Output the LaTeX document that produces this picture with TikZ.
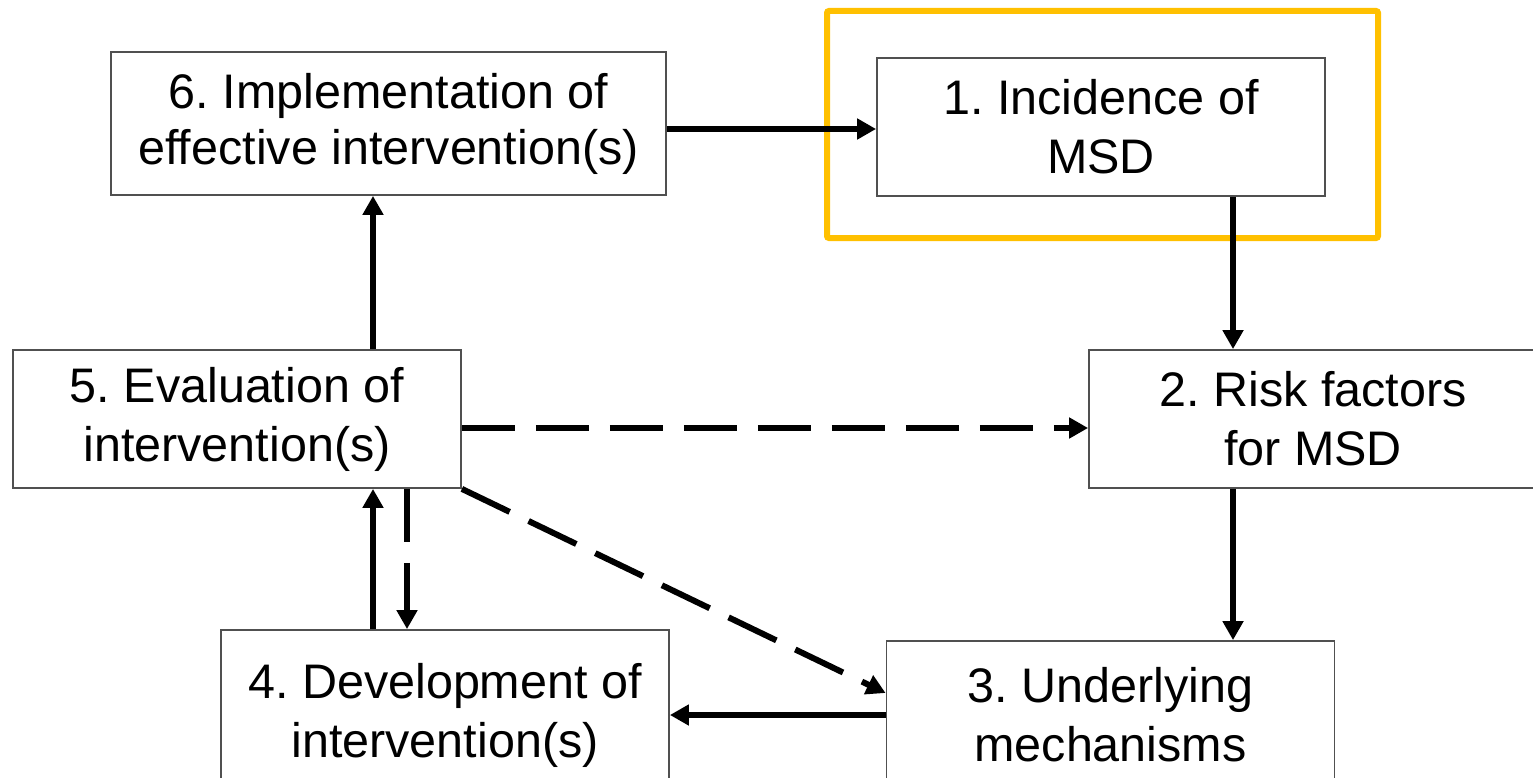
\documentclass[tikz,border=0pt]{standalone}
\usepackage{fontspec}
\setmainfont{Liberation Sans}
\usetikzlibrary{arrows.meta}
\definecolor{gold}{HTML}{FFC000}
\definecolor{bordergray}{HTML}{505050}
\tikzset{
 box/.style={draw=bordergray, line width=1.8pt, fill=white, align=center,
   font=\fontsize{48.5}{59}\selectfont\frenchspacing, inner sep=0pt,
   minimum width=448pt, minimum height=138pt},
 arr/.style={line width=6pt, -{Triangle[length=19pt,width=20pt]}},
 darr/.style={arr, dash pattern=on 53pt off 21pt},
 hilite/.style={draw=gold, line width=6pt, rounded corners=2pt},
}
\begin{document}
\begin{tikzpicture}[x=1pt,y=-1pt]
\useasboundingbox (0,0) rectangle (1533,778);
\clip (0,0) rectangle (1533,778);
\node[box, minimum width=555pt, minimum height=143pt] (b6) at (388.5,123.5) {\raisebox{-3pt}{6. Implementation of}\\effective intervention(s)};
\node[box] (b1) at (1101,127) {1. Incidence of\\MSD};
\node[box] (b5) at (237,419) {5. Evaluation of\\intervention(s)};
\node[box] (b2) at (1313,419) {2. Risk factors\\for MSD};
\node[box, minimum height=170pt] (b4) at (445,715) {4. Development of\\intervention(s)};
\node[box, minimum height=148pt] (b3) at (1110.5,715) {3. Underlying\\mechanisms};
\coordinate (cr) at (1233,0);
\coordinate (cl) at (373,0);
\coordinate (cd) at (407,0);
\coordinate (hl1) at (827,11);
\coordinate (hl2) at (1378,238);
\draw[hilite] (hl1) rectangle (hl2);
\draw[arr] ([yshift=-2pt]b1.west -| b6.east) -- ([yshift=-2pt]b1.west);
\draw[arr] (b1.south -| cr) -- (b2.north -| cr);
\draw[arr] (b2.south -| cr) -- (b3.north -| cr);
\draw[arr] (b3.west) -- (b4.east);
\draw[arr] (b4.north -| cl) -- (b5.south -| cl);
\draw[arr] (b5.north -| cl) -- (b6.south -| cl);
\draw[darr] (b5.south -| cd) -- (b4.north -| cd);
\draw[darr] ([yshift=-9pt]b5.east) -- ([yshift=-9pt]b2.west);
\draw[darr] (b5.south east) -- ([yshift=22pt]b3.west);
\end{tikzpicture}
\end{document}
